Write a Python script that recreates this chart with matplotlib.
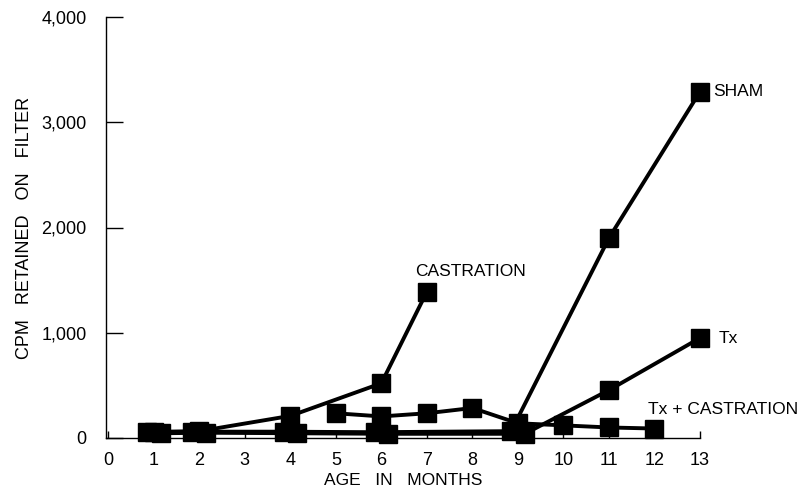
import matplotlib
matplotlib.use("Agg")
import matplotlib.pyplot as plt

# months / cpm
sham_x = [0.85, 1.85, 3.85, 5.85, 8.85, 11, 13]
sham_y = [60, 60, 60, 55, 65, 1900, 3290]
tx_x = [1.15, 2.15, 4.15, 6.15, 9.15, 11, 13]
tx_y = [45, 50, 45, 40, 40, 455, 950]
cast_x = [1, 2, 4, 6, 7]
cast_y = [55, 65, 210, 520, 1390]
txcast_x = [5, 6, 7, 8, 9, 10, 11, 12]
txcast_y = [235, 205, 235, 285, 140, 120, 100, 90]

xticks = list(range(14))
yticks = [0, 1000, 2000, 3000, 4000]
ylabels = ["0", "1,000", "2,000", "3,000", "4,000"]

plt.rcParams['font.family'] = ['Liberation Sans', 'DejaVu Sans']

fig = plt.figure(figsize=(7.98, 4.91), dpi=100)
ax = fig.add_axes([106/798, 53/491, 594/798, 421/491])

for xs, ys in [(sham_x, sham_y), (tx_x, tx_y), (cast_x, cast_y), (txcast_x, txcast_y)]:
    ax.plot(xs, ys, color='black', lw=2.8, marker='s', ms=12.5,
            mfc='black', mec='black', clip_on=False, zorder=3)

ax.set_xlim(-0.05, 13)
ax.set_ylim(0, 4000)
ax.spines['top'].set_visible(False)
ax.spines['right'].set_visible(False)
for s in ['left', 'bottom']:
    ax.spines[s].set_linewidth(1.0)

ax.set_xticks(xticks)
ax.set_xticklabels([str(t) for t in xticks], fontsize=13)
ax.set_yticks(yticks)
ax.set_yticklabels(ylabels, fontsize=13)
ax.tick_params(axis='y', direction='in', length=12, width=1, pad=14)
ax.tick_params(axis='x', direction='in', length=5, width=1, pad=10)

ax.set_xlabel("AGE   IN   MONTHS", fontsize=12.5, labelpad=3)
ax.set_ylabel("CPM   RETAINED   ON   FILTER", fontsize=13, labelpad=6)

ax.text(13.3, 3290, "SHAM", fontsize=12.5, va='center', ha='left')
ax.text(13.4, 950, "Tx", fontsize=12.5, va='center', ha='left')
ax.text(6.75, 1580, "CASTRATION", fontsize=12.5, va='center', ha='left')
ax.text(11.85, 270, "Tx + CASTRATION", fontsize=12.5, va='center', ha='left')

fig.savefig("out.png", dpi=100)
